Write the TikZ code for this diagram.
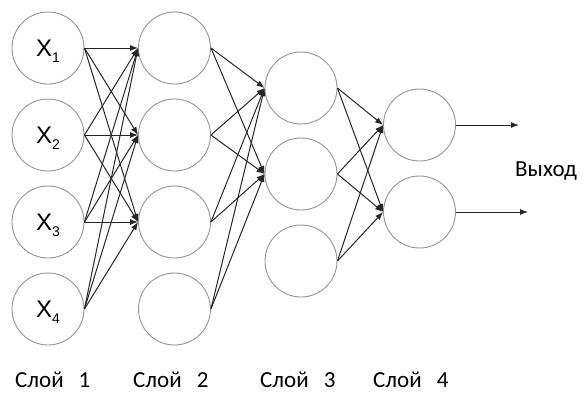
\documentclass[tikz,border=0pt]{standalone}
\usepackage{fontspec}
\setmainfont{Carlito}
\newfontfamily\xfont{Liberation Sans}
\usetikzlibrary{arrows.meta}
\begin{document}
\begin{tikzpicture}[x=1pt,y=-1pt,
  neuron/.style={circle,draw=black!42,line width=0.9pt,minimum size=72pt,inner sep=0pt},
  link/.style={draw=black!85,line width=1pt,-{Latex[length=8pt,width=6pt]}},
  xlabel/.style={font=\xfont\fontsize{24}{24}\selectfont,inner sep=0pt},
  caption/.style={font=\fontsize{23}{23}\selectfont,inner sep=0pt,anchor=base west}]
\useasboundingbox (0,0) rectangle (584,392);
\newcommand{\xsub}[1]{X\raisebox{-6pt}[0pt][0pt]{\fontsize{14}{14}\selectfont #1}}
\newcommand{\layername}[1]{Слой\hspace{15pt}#1}
% layer 1 (inputs)
\foreach \i/\y in {1/48,2/135,3/222,4/309}{
  \node[neuron] (a\i) at (48,\y) {};
  \node[xlabel] (t\i) at (48,\y) {\xsub{\i}};
}
% layer 2
\foreach \i/\y in {1/48,2/135,3/222,4/309}
  \node[neuron] (b\i) at (174.5,\y) {};
% layer 3
\foreach \i/\y in {1/88,2/174,3/261}
  \node[neuron] (c\i) at (301,\y) {};
% layer 4
\foreach \i/\y in {1/125,2/212}
  \node[neuron] (d\i) at (419.5,\y) {};
% connections
\foreach \i in {1,...,4}
  \foreach \j in {1,2,3}
    \draw[link] (a\i.east) -- (b\j.west);
\foreach \i in {1,...,4}
  \foreach \j in {1,2}
    \draw[link] (b\i.east) -- (c\j.west);
\foreach \i in {1,2,3}
  \foreach \j in {1,2}
    \draw[link] (c\i.east) -- (d\j.west);
% outputs
\coordinate (o1) at (519,125);
\coordinate (o2) at (528,212);
\draw[link] (d1.east) -- (o1);
\draw[link] (d2.east) -- (o2);
\node[caption] (out) at (515,176) {Выход};
% layer captions
\node[caption] (s1) at (15,387) {\layername{1}};
\node[caption] (s2) at (133,387) {\layername{2}};
\node[caption] (s3) at (260,387) {\layername{3}};
\node[caption] (s4) at (373,387) {\layername{4}};
\end{tikzpicture}
\end{document}
